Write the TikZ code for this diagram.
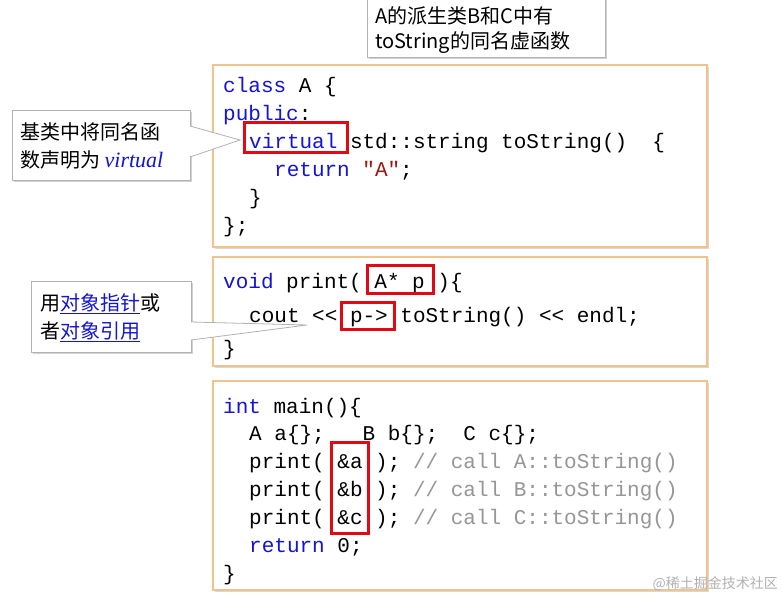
\documentclass[tikz,border=0pt]{standalone}
\usepackage{fontspec}
\setmonofont{Liberation Mono}
\newfontfamily\cjk{Noto Sans CJK SC}
\newfontfamily\serifit{Liberation Serif}
\usetikzlibrary{shadows}
\definecolor{kw}{RGB}{20,20,210}
\definecolor{str}{RGB}{160,20,20}
\definecolor{cmt}{RGB}{150,150,150}
\definecolor{orng}{RGB}{240,195,140}
\definecolor{rd}{RGB}{225,10,20}
\begin{document}
\begin{tikzpicture}[x=1pt,y=-1pt,
  codebox/.style={draw=orng,line width=2pt,fill=white,drop shadow={shadow xshift=2pt,shadow yshift=-2pt,opacity=0.3}},
  code/.style={anchor=base west,inner sep=0,font=\ttfamily\fontsize{21}{28}\selectfont},
  redbox/.style={draw=rd,line width=3pt},
  note/.style={draw=gray!60,fill=white,line width=0.8pt,drop shadow={shadow xshift=2pt,shadow yshift=-2pt,opacity=0.35}},
  ntext/.style={anchor=base west,inner sep=0,font=\cjk\fontsize{20}{24}\selectfont}]
\useasboundingbox (0,0) rectangle (782,596);
\fill[white] (0,0) rectangle (782,596);
% top note
\path[note] (367,-5) rectangle (605,57);
\node[ntext] (t1) at (375,24) {A的派生类B和C中有};
\node[ntext] (t2) at (375,49) {toString的同名虚函数};
% boxes
\path[codebox] (213,65) rectangle (707,247);
\path[codebox] (213,257) rectangle (707,366);
\path[codebox] (213,381) rectangle (707,590);
% box 1
\node[code] (l1) at (223,93) {\textcolor{kw}{class} A \{};
\node[code] (l2) at (223,121) {\textcolor{kw}{public}:};
\node[code] (l3) at (249,149) {\textcolor{kw}{virtual}~std::string toString()~~\{};
\node[code] (l4) at (274,177) {\textcolor{kw}{return} \textcolor{str}{"A"};};
\node[code] (l5) at (249,205) {\}};
\node[code] (l6) at (223,233) {\};};
% box 2
\node[code] (m1) at (223,288) {\textcolor{kw}{void} print(~A* p~)\{};
\node[code] (m2) at (249,322) {cout << p-> toString() << endl;};
\node[code] (m3) at (223,355) {\}};
% box 3
\node[code] (n1) at (223,413) {\textcolor{kw}{int} main()\{};
\node[code] (n2) at (249,440) {A a\{\};~~~B b\{\};~~C c\{\};};
\node[code] (n3) at (249,468) {print( \&a ); \textcolor{cmt}{// call A::toString()}};
\node[code] (n4) at (249,496) {print( \&b ); \textcolor{cmt}{// call B::toString()}};
\node[code] (n5) at (249,524) {print( \&c ); \textcolor{cmt}{// call C::toString()}};
\node[code] (n6) at (249,552) {\textcolor{kw}{return} 0;};
\node[code] (n7) at (223,580) {\}};
% red boxes
\draw[redbox] (244,123) rectangle (347,153);
\draw[redbox] (367,266) rectangle (433,293);
\draw[redbox] (341,302) rectangle (394,329);
\draw[redbox] (331,442) rectangle (368,533);
% callout 1
\coordinate (tip1) at (240,140);
\path[note] (12,110) rectangle (190,180);
\fill[white] (189,126) -- (tip1) -- (189,157) -- cycle;
\draw[gray!60,line width=0.8pt] (190,126) -- (tip1) -- (190,157);
\node[ntext] (c1) at (20,140) {基类中将同名函};
\node[ntext] (c2) at (20,168) {数声明为 {\serifit\itshape\color{kw}\fontsize{22}{24}\selectfont virtual}};
% callout 2
\coordinate (tip2) at (307,325);
\path[note] (31,281) rectangle (191,352);
\fill[white] (190,322) -- (tip2) -- (190,340) -- cycle;
\draw[gray!60,line width=0.8pt] (191,322) -- (tip2) -- (191,340);
\node[ntext] (d1) at (40,310) {用\textcolor{kw}{\underline{对象指针}}或};
\node[ntext] (d2) at (40,338) {者\textcolor{kw}{\underline{对象引用}}};
% watermark
\node[anchor=base east,inner sep=0,font=\cjk\fontsize{14}{16}\selectfont,text=gray!60] (wm) at (778,588) {@稀土掘金技术社区};
\end{tikzpicture}
\end{document}
